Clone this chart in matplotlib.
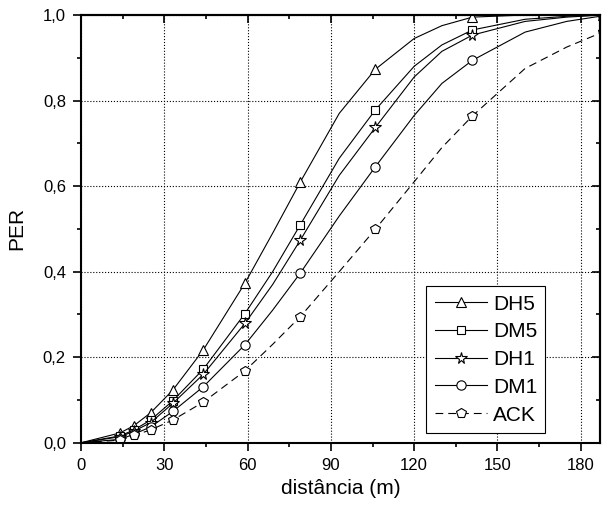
import numpy as np
import matplotlib
matplotlib.use('Agg')
import matplotlib.pyplot as plt
from matplotlib.ticker import MultipleLocator, FuncFormatter

plt.rc('font', family='Liberation Sans', size=12)

# distance nodes of the curves (m), markers only on some of them
dist = [0, 14, 19, 25, 33, 44, 59, 69, 79, 93, 106, 120, 130, 141, 160, 175, 188]
mark_idx = [1, 2, 3, 4, 5, 6, 8, 10, 13, 16]

per_dh5 = [0, 0.023, 0.040, 0.070, 0.123, 0.217, 0.373, 0.490, 0.610, 0.770, 0.873, 0.945, 0.975, 0.995, 1.000, 1.000, 1.000]
per_dm5 = [0, 0.016, 0.030, 0.053, 0.098, 0.172, 0.302, 0.400, 0.510, 0.665, 0.778, 0.880, 0.930, 0.965, 0.990, 0.997, 1.000]
per_dh1 = [0, 0.014, 0.027, 0.047, 0.092, 0.160, 0.279, 0.370, 0.474, 0.625, 0.737, 0.855, 0.915, 0.953, 0.985, 0.995, 1.000]
per_dm1 = [0, 0.008, 0.020, 0.037, 0.073, 0.131, 0.229, 0.310, 0.397, 0.530, 0.645, 0.765, 0.840, 0.894, 0.960, 0.985, 0.998]
per_ack = [0, 0.006, 0.017, 0.030, 0.053, 0.095, 0.168, 0.230, 0.295, 0.400, 0.499, 0.610, 0.690, 0.764, 0.875, 0.925, 0.960]

series = [
    ('DH5', per_dh5, '^', 7.7, '-'),
    ('DM5', per_dm5, 's', 5.8, '-'),
    ('DH1', per_dh1, '*', 8.5, '-'),
    ('DM1', per_dm1, 'o', 6.7, '-'),
    ('ACK', per_ack, 'p', 7.0, '--'),
]

fig = plt.figure(figsize=(6.02, 5.08), dpi=100)
ax = fig.add_axes([0.135, 0.1285, 0.8617, 0.842])

for name, vals, mk, ms, ls in series:
    line, = ax.plot(dist, vals, color='black', lw=0.8, linestyle=ls,
                    marker=mk, markersize=ms, markevery=mark_idx,
                    markerfacecolor='white', markeredgecolor='black',
                    markeredgewidth=0.8, label=name)
    if ls == '--':
        line.set_dashes((7, 4.5))

ax.set_xlim(0, 187)
ax.set_ylim(0, 1.0)
ax.xaxis.set_major_locator(MultipleLocator(30))
ax.xaxis.set_minor_locator(MultipleLocator(15))
ax.yaxis.set_major_locator(MultipleLocator(0.2))
ax.yaxis.set_minor_locator(MultipleLocator(0.1))
ax.yaxis.set_major_formatter(FuncFormatter(lambda v, p: ('%.1f' % v).replace('.', ',')))

ax.grid(True, which='major', linestyle=':', color='black', lw=0.8)
ax.tick_params(which='both', direction='out', top=False, right=False, width=1.2, labelsize=12)
ax.tick_params(which='major', length=6, pad=5)
ax.tick_params(which='minor', length=3)

# mirrored ticks on top and right, pointing inward
secx = ax.secondary_xaxis('top')
secx.xaxis.set_major_locator(MultipleLocator(30))
secx.xaxis.set_minor_locator(MultipleLocator(15))
secx.tick_params(which='both', direction='in', labeltop=False, width=1.2)
secx.tick_params(which='major', length=6)
secx.tick_params(which='minor', length=3)
secy = ax.secondary_yaxis('right')
secy.yaxis.set_major_locator(MultipleLocator(0.2))
secy.yaxis.set_minor_locator(MultipleLocator(0.1))
secy.tick_params(which='both', direction='in', labelright=False, width=1.2)
secy.tick_params(which='major', length=6)
secy.tick_params(which='minor', length=3)

for sp in list(ax.spines.values()) + [secx.spines['top'], secy.spines['right']]:
    sp.set_linewidth(1.5)

ax.set_xlabel('distância (m)', fontsize=15, labelpad=4)
ax.set_ylabel('PER', fontsize=15, labelpad=12)

leg = ax.legend(loc='upper left', bbox_to_anchor=(0.665, 0.366), fontsize=15,
                frameon=True, fancybox=False, edgecolor='black', framealpha=1,
                handlelength=2.5, labelspacing=0.42, borderpad=0.4,
                handletextpad=0.3, borderaxespad=0)
leg.get_frame().set_linewidth(0.8)

plt.savefig('out.png', dpi=100)
